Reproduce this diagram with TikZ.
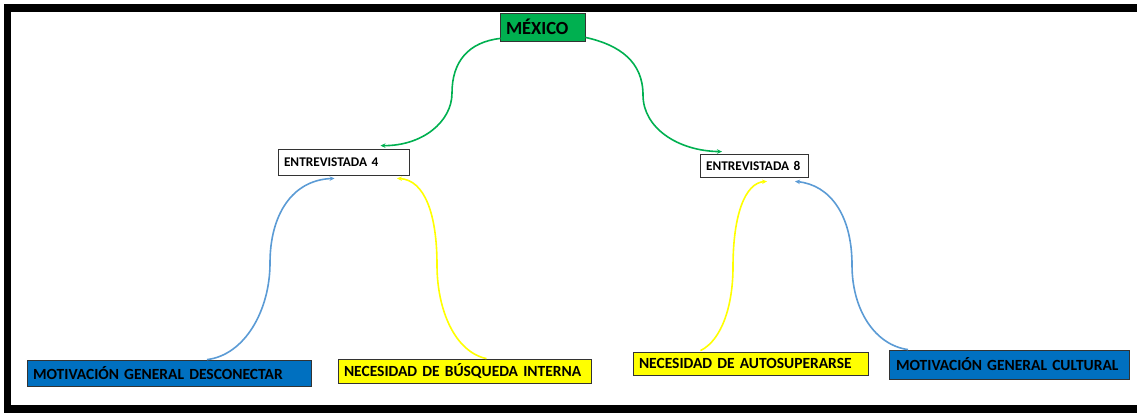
\documentclass[tikz,border=0pt]{standalone}
\usepackage{fontspec}
\setmainfont{Carlito}[BoldFont={Carlito Bold}]
\usepackage{xcolor}
\usepackage{tikz}
\usetikzlibrary{arrows.meta,positioning,calc}

\definecolor{verdemx}{HTML}{00B050}
\definecolor{azulcaja}{HTML}{0070C0}
\definecolor{azullinea}{HTML}{5B9BD5}
\definecolor{amarillo}{HTML}{FFFF00}

\begin{document}
\begin{tikzpicture}[x=1pt, y=-1pt,
    caja/.style={draw=black!80, line width=0.8pt, rectangle, align=left, inner xsep=6pt, inner ysep=0pt},
    flecha/.style={line width=1.6pt, -{Stealth[length=5pt,width=4.5pt]}}]
    \useasboundingbox (0,0) rectangle (1137,412);

    % Marco
    \draw[line width=7.5pt] (1140,8) -- (7.5,8) -- (7.5,409) -- (1140,409);

    % Pais
    \node[caja, fill=verdemx, font=\fontsize{18.5}{20}\selectfont\bfseries,
          minimum height=28pt, text width=73pt] (mexico) at (542.5,27) {MÉXICO};

    % Entrevistadas
    \node[caja, fill=white, font=\fontsize{13.3}{15}\selectfont\bfseries,
          minimum height=26pt, text width=119pt] (ent4) at (343.5,162) {ENTREVISTADA 4};
    \node[caja, fill=white, font=\fontsize{13.3}{15}\selectfont\bfseries,
          minimum height=23pt, text width=96pt] (ent8) at (754,165.5) {ENTREVISTADA 8};

    % Motivaciones y necesidades
    \node[caja, fill=azulcaja, font=\fontsize{15.5}{17}\selectfont\bfseries,
          minimum height=26pt, text width=272pt] (motdes) at (169,373) {MOTIVACIÓN GENERAL DESCONECTAR};
    \node[caja, fill=amarillo, font=\fontsize{15.5}{17}\selectfont\bfseries,
          minimum height=24pt, text width=241pt] (necint) at (464.5,371) {NECESIDAD DE BÚSQUEDA INTERNA};
    \node[caja, fill=amarillo, font=\fontsize{15.5}{17}\selectfont\bfseries,
          minimum height=23pt, text width=223pt] (necaut) at (750.5,363.5) {NECESIDAD DE AUTOSUPERARSE};
    \node[caja, fill=azulcaja, font=\fontsize{15.5}{17}\selectfont\bfseries,
          minimum height=29pt, text width=226pt, inner xsep=7pt] (motcul) at (1009,364.5) {MOTIVACIÓN GENERAL CULTURAL};

    % Mexico -> entrevistadas
    \draw[flecha, verdemx] ($(mexico.south west)+(1,-3)$) .. controls (468,42) and (452,62) .. (452,93)
        .. controls (452,122) and (422,146) .. ($(ent4.north)+(37,-3)$);
    \draw[flecha, verdemx] ($(mexico.south east)+(0,-4)$) .. controls (620,45) and (643,62) .. (643,95)
        .. controls (643,128) and (678,151) .. ($(ent8.north)+(-32,-2)$);

    % Entrevistada 4
    \draw[flecha, azullinea] ($(motdes.north)+(38,0)$) .. controls (245,355) and (270,310) .. (270,263)
        .. controls (270,215) and (292,180) .. ($(ent4.south)+(-9,3)$);
    \draw[flecha, amarillo] ($(necint.north)+(22,0)$) .. controls (455,352) and (437,310) .. (437,265)
        .. controls (437,215) and (425,180) .. ($(ent4.south)+(53.5,3)$);

    % Entrevistada 8
    \draw[flecha, amarillo] ($(necaut.north)+(-50,-1)$) .. controls (722,340) and (733,305) .. (733,267)
        .. controls (733,215) and (745,183) .. ($(ent8.south)+(13,4)$);
    \draw[flecha, azullinea] ($(motcul.north)+(-101,0)$) .. controls (875,345) and (852,310) .. (852,265)
        .. controls (852,215) and (830,185) .. ($(ent8.south)+(41,4)$);
\end{tikzpicture}
\end{document}
